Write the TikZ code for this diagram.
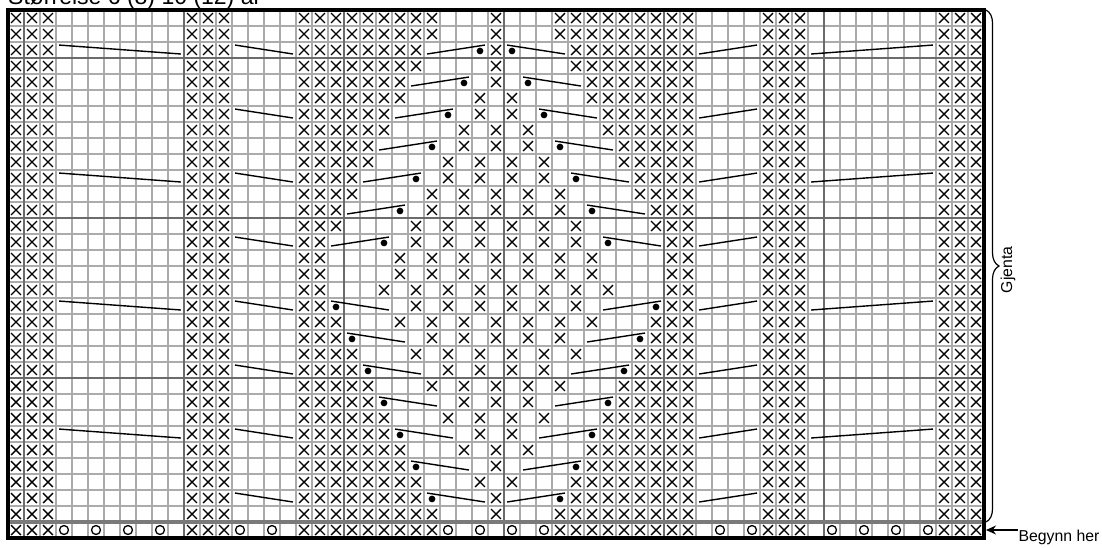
\documentclass[tikz,border=0pt]{standalone}
\usepackage{fontspec}
\setmainfont{Liberation Sans}
\usetikzlibrary{arrows.meta,decorations.pathreplacing}
\tikzset{
  gridline/.style={line width=1.1pt, color=black!33},
  gridheavy/.style={line width=1.3pt, color=black!58},
  slant/.style={line width=1.4pt, color=black},
  knitmark/.style={line width=1.4pt, color=black},
  yarnover/.style={line width=1.3pt, color=black},
  border/.style={line width=4pt, color=black},
  chartlabel/.style={inner sep=0pt, font=\fontsize{15.8}{16}\selectfont}
}
\newcommand{\slantfall}[3]{\draw[slant] (#1+.19,#3+.19) -- (#2-.19,#3+.75);}
\newcommand{\slantrise}[3]{\draw[slant] (#1+.19,#3+.75) -- (#2-.19,#3+.19);}

\begin{document}
\begin{tikzpicture}[x=16pt, y=-16pt]
\useasboundingbox (-.5,-.625) rectangle (68.375,33.5625);
\clip (-.5,-.625) rectangle (68.375,33.5625);
\foreach \c in {1,...,60} \draw[gridline] (\c,0) -- (\c,33);
\foreach \r in {1,...,32} \draw[gridline] (0,\r) -- (61,\r);
\foreach \c in {1,11,...,51} \draw[gridheavy] (\c,0) -- (\c,33);
\foreach \r in {3,13,23} \draw[gridheavy] (0,\r) -- (61,\r);
\draw[line width=3.2pt, black!52] (0,32) -- (61,32);
\foreach \r/\lefttop/\midcols/\rightlow in {
  0/26/{30}/34, 1/26/{30}/34, 2/25/{30}/35, 3/25/{30}/35,
  4/24/{30}/36, 5/24/{29,31}/36, 6/23/{29,31}/37, 7/23/{28,30,32}/37,
  8/22/{28,30,32}/38, 9/22/{27,29,31,33}/38, 10/21/{27,29,31,33}/39, 11/21/{26,28,...,34}/39,
  12/20/{26,28,...,34}/40, 13/20/{25,27,...,35}/40, 14/19/{25,27,...,35}/41, 15/19/{24,26,...,36}/41,
  16/19/{24,26,...,36}/41, 17/19/{23,25,...,37}/41, 18/19/{25,27,...,35}/41, 19/20/{24,26,...,36}/40,
  20/20/{26,28,...,34}/40, 21/21/{25,27,...,35}/39, 22/21/{27,29,31,33}/39, 23/22/{26,28,...,34}/38,
  24/22/{28,30,32}/38, 25/23/{27,29,31,33}/37, 26/23/{29,31}/37, 27/24/{28,30,32}/36,
  28/24/{30}/36, 29/25/{29,31}/35, 30/25/{30}/35, 31/26/{30}/34, 32/26/{13}/34}
  \draw[knitmark]
    \foreach \c in {0,1,2,11,12,13,47,48,49,58,59,60} {
      (\c+.19,\r+.19) -- (\c+.81,\r+.81) (\c+.81,\r+.19) -- (\c+.19,\r+.81)}
    \foreach \c in \midcols {
      (\c+.19,\r+.19) -- (\c+.81,\r+.81) (\c+.81,\r+.19) -- (\c+.19,\r+.81)}
    \foreach \c in {18,...,\lefttop} {
      (\c+.19,\r+.19) -- (\c+.81,\r+.81) (\c+.81,\r+.19) -- (\c+.19,\r+.81)}
    \foreach \c in {\rightlow,...,42} {
      (\c+.19,\r+.19) -- (\c+.81,\r+.81) (\c+.81,\r+.19) -- (\c+.19,\r+.81)};
\draw[yarnover] \foreach \c in {3,5,7,9,14,16,27,29,31,33,44,46,51,53,55,57} {(\c+.5,32.5) circle (.28)};
\foreach \r in {2,10,18,26} {\slantfall{3}{11}{\r} \slantrise{50}{58}{\r}}
\foreach \r in {2,6,...,30} {\slantfall{14}{18}{\r} \slantrise{43}{47}{\r}}
\foreach \c/\r in {26/2,25/4,24/6,23/8,22/10,21/12,20/14,37/18,36/20,35/22,34/24,33/26,32/28,31/30} {
  \slantrise{\c}{\c+4}{\r}
  \fill (\c+3.5,\r+.56) circle (.21);
}
\foreach \c/\r in {31/2,32/4,33/6,34/8,35/10,36/12,37/14,20/18,21/20,22/22,23/24,24/26,25/28,26/30} {
  \slantfall{\c}{\c+4}{\r}
  \fill (\c+.5,\r+.56) circle (.21);
}
\draw[border] (0,0) rectangle (61,33);
\node[anchor=base west, inner sep=0pt, font=\fontsize{23}{24}\selectfont] (sizes) at (0,-.36) {Størrelse 6 (8) 10 (12) år};
\coordinate (bracetop) at (61.125,0);
\coordinate (bracebot) at (61.125,32);
\draw[line width=1.2pt, decorate, decoration={brace, amplitude=13pt}] (bracetop) -- (bracebot);
\node[chartlabel, rotate=90] (repeat) at (62.5,16.25) {Gjenta};
\node[chartlabel, anchor=base west] (begin) at (63.15,33.23) {Begynn her};
\coordinate (starttip) at (61.125,32.5);
\draw[{Stealth[length=10pt, width=9pt]}-, line width=1.2pt] (starttip) -- (starttip -| begin.west);
\end{tikzpicture}
\end{document}
